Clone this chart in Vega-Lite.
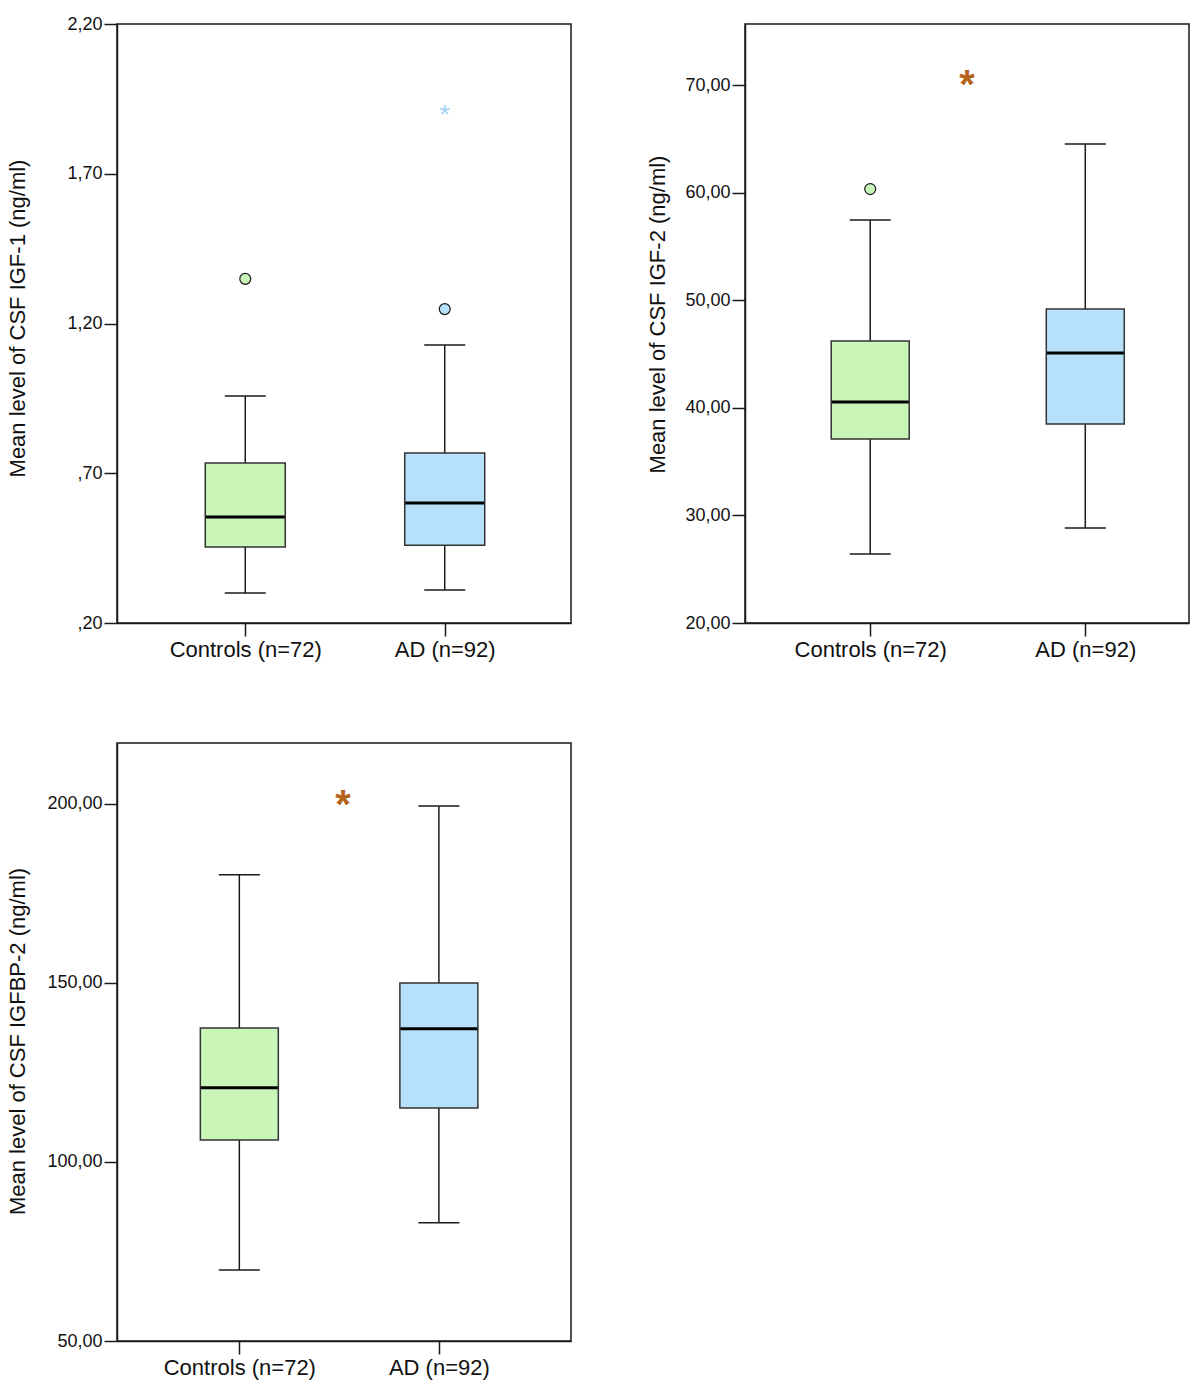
{
  "$schema": "https://vega.github.io/schema/vega-lite/v6.json",
  "padding": {"left": 5, "top": 14, "right": 5, "bottom": 5},
  "background": "white",
  "config": {
    "font": "Liberation Sans",
    "view": {"stroke": "#1a1a1a", "strokeWidth": 1.5},
    "axis": {
      "domainColor": "#1a1a1a", "domainWidth": 1.5,
      "tickColor": "#1a1a1a", "tickWidth": 1.5, "tickSize": 13,
      "labelColor": "#111111", "titleColor": "#111111",
      "labelFont": "Liberation Sans", "titleFont": "Liberation Sans",
      "labelFontSize": 18, "titleFontSize": 22, "titleFontWeight": "normal",
      "labelPadding": 2, "grid": false
    },
    "axisX": {"labelFontSize": 22, "labelPadding": 3},
    "tick": {"color": "#111111", "opacity": 1},
    "bar": {"opacity": 1}
  },
  "datasets": {
    "boxes": [
      {"panel": "IGF-1", "group": "Controls", "pos": 1, "lo": 0.30, "q1": 0.454, "med": 0.554, "q3": 0.734, "hi": 0.958},
      {"panel": "IGF-1", "group": "AD", "pos": 2, "lo": 0.31, "q1": 0.46, "med": 0.601, "q3": 0.768, "hi": 1.128},
      {"panel": "IGF-2", "group": "Controls", "pos": 1, "lo": 26.41, "q1": 37.1, "med": 40.54, "q3": 46.2, "hi": 57.45},
      {"panel": "IGF-2", "group": "AD", "pos": 2, "lo": 28.83, "q1": 38.49, "med": 45.09, "q3": 49.18, "hi": 64.52},
      {"panel": "IGFBP-2", "group": "Controls", "pos": 1, "lo": 69.8, "q1": 106.1, "med": 120.7, "q3": 137.4, "hi": 180.2},
      {"panel": "IGFBP-2", "group": "AD", "pos": 2, "lo": 83.0, "q1": 115.1, "med": 137.2, "q3": 150.0, "hi": 199.4}
    ],
    "outliers": [
      {"panel": "IGF-1", "group": "Controls", "pos": 1, "value": 1.349, "marker": "circle"},
      {"panel": "IGF-1", "group": "AD", "pos": 2, "value": 1.248, "marker": "circle"},
      {"panel": "IGF-1", "group": "AD", "pos": 2, "value": 1.916, "marker": "extreme"},
      {"panel": "IGF-2", "group": "Controls", "pos": 1, "value": 60.33, "marker": "circle"},
      {"panel": "IGF-2", "group": "significance", "pos": 1.45, "value": 70.84, "marker": "significance"},
      {"panel": "IGFBP-2", "group": "significance", "pos": 1.52, "value": 202.2, "marker": "significance"}
    ]
  },
  "bounds": "flush",
  "columns": 2,
  "spacing": {"row": 120, "column": 174},
  "concat": [
    {
      "width": 454, "height": 599,
      "encoding": {
        "x": {"field": "pos", "type": "quantitative", "scale": {"domain": [0.382, 2.608], "nice": false, "zero": false},
              "axis": {"title": null, "values": [1, 2], "labelExpr": "datum.value == 1 ? 'Controls (n=72)' : 'AD (n=92)'"}}
      },
      "layer": [
        {"data": {"name": "boxes"}, "transform": [{"filter": "datum.panel == 'IGF-1'"}],
         "mark": {"type": "rule", "color": "#1a1a1a", "strokeWidth": 1.5},
         "encoding": {"y": {"field": "lo", "type": "quantitative", "scale": {"domain": [0.2, 2.2], "nice": false, "zero": false},
                           "axis": {"title": "Mean level of CSF IGF-1 (ng/ml)", "values": [0.2, 0.7, 1.2, 1.7, 2.2],
                                    "labelExpr": "datum.value < 1 ? ',' + substring(format(datum.value, '.2f'), 2) : replace(format(datum.value, '.2f'), '.', ',')",
                                    "titleX": -88, "titleY": 294, "titleAngle": -90, "titleBaseline": "bottom", "titleAlign": "center"}},
                      "y2": {"field": "hi"}}},
        {"data": {"name": "boxes"}, "transform": [{"filter": "datum.panel == 'IGF-1'"}],
         "mark": {"type": "bar", "orient": "vertical", "width": 80, "stroke": "#333333", "strokeWidth": 1.5},
         "encoding": {"y": {"field": "q1", "type": "quantitative"}, "y2": {"field": "q3"},
                      "fill": {"field": "group", "type": "nominal", "scale": {"domain": ["Controls", "AD"], "range": ["#c9f5b8", "#b7e0fb"]}, "legend": null}}},
        {"data": {"name": "boxes"}, "transform": [{"filter": "datum.panel == 'IGF-1'"}],
         "mark": {"type": "tick", "orient": "horizontal", "size": 79, "thickness": 3, "color": "#000000"},
         "encoding": {"y": {"field": "med", "type": "quantitative"}}},
        {"data": {"name": "boxes"}, "transform": [{"filter": "datum.panel == 'IGF-1'"}],
         "mark": {"type": "tick", "orient": "horizontal", "size": 41, "thickness": 1.5, "color": "#1a1a1a"},
         "encoding": {"y": {"field": "lo", "type": "quantitative"}}},
        {"data": {"name": "boxes"}, "transform": [{"filter": "datum.panel == 'IGF-1'"}],
         "mark": {"type": "tick", "orient": "horizontal", "size": 41, "thickness": 1.5, "color": "#1a1a1a"},
         "encoding": {"y": {"field": "hi", "type": "quantitative"}}},
        {"data": {"name": "outliers"}, "transform": [{"filter": "datum.panel == 'IGF-1' && datum.marker == 'circle'"}],
         "mark": {"type": "point", "shape": "circle", "filled": true, "size": 120, "stroke": "#1a1a1a", "strokeWidth": 1.2, "opacity": 1},
         "encoding": {"y": {"field": "value", "type": "quantitative"},
                      "fill": {"field": "group", "type": "nominal", "legend": null}}},
        {"data": {"name": "outliers"}, "transform": [{"filter": "datum.panel == 'IGF-1' && datum.marker == 'extreme'"}],
         "mark": {"type": "text", "text": "*", "fontSize": 28, "color": "#a6d4f2", "baseline": "middle", "dy": 7},
         "encoding": {"y": {"field": "value", "type": "quantitative"}}}
      ]
    },
    {
      "width": 444, "height": 599,
      "encoding": {
        "x": {"field": "pos", "type": "quantitative", "scale": {"domain": [0.441, 2.459], "nice": false, "zero": false},
              "axis": {"title": null, "values": [1, 2], "labelExpr": "datum.value == 1 ? 'Controls (n=72)' : 'AD (n=92)'"}}
      },
      "layer": [
        {"data": {"name": "boxes"}, "transform": [{"filter": "datum.panel == 'IGF-2'"}],
         "mark": {"type": "rule", "color": "#1a1a1a", "strokeWidth": 1.5},
         "encoding": {"y": {"field": "lo", "type": "quantitative", "scale": {"domain": [20, 75.67], "nice": false, "zero": false},
                           "axis": {"title": "Mean level of CSF IGF-2 (ng/ml)", "values": [20, 30, 40, 50, 60, 70],
                                    "labelExpr": "replace(format(datum.value, '.2f'), '.', ',')",
                                    "titleX": -76, "titleY": 290, "titleAngle": -90, "titleBaseline": "bottom", "titleAlign": "center"}},
                      "y2": {"field": "hi"}}},
        {"data": {"name": "boxes"}, "transform": [{"filter": "datum.panel == 'IGF-2'"}],
         "mark": {"type": "bar", "orient": "vertical", "width": 78, "stroke": "#333333", "strokeWidth": 1.5},
         "encoding": {"y": {"field": "q1", "type": "quantitative"}, "y2": {"field": "q3"},
                      "fill": {"field": "group", "type": "nominal", "scale": {"domain": ["Controls", "AD"], "range": ["#c9f5b8", "#b7e0fb"]}, "legend": null}}},
        {"data": {"name": "boxes"}, "transform": [{"filter": "datum.panel == 'IGF-2'"}],
         "mark": {"type": "tick", "orient": "horizontal", "size": 77, "thickness": 3, "color": "#000000"},
         "encoding": {"y": {"field": "med", "type": "quantitative"}}},
        {"data": {"name": "boxes"}, "transform": [{"filter": "datum.panel == 'IGF-2'"}],
         "mark": {"type": "tick", "orient": "horizontal", "size": 41, "thickness": 1.5, "color": "#1a1a1a"},
         "encoding": {"y": {"field": "lo", "type": "quantitative"}}},
        {"data": {"name": "boxes"}, "transform": [{"filter": "datum.panel == 'IGF-2'"}],
         "mark": {"type": "tick", "orient": "horizontal", "size": 41, "thickness": 1.5, "color": "#1a1a1a"},
         "encoding": {"y": {"field": "hi", "type": "quantitative"}}},
        {"data": {"name": "outliers"}, "transform": [{"filter": "datum.panel == 'IGF-2' && datum.marker == 'circle'"}],
         "mark": {"type": "point", "shape": "circle", "filled": true, "size": 120, "stroke": "#1a1a1a", "strokeWidth": 1.2, "opacity": 1},
         "encoding": {"y": {"field": "value", "type": "quantitative"},
                      "fill": {"field": "group", "type": "nominal", "legend": null}}},
        {"data": {"name": "outliers"}, "transform": [{"filter": "datum.panel == 'IGF-2' && datum.marker == 'significance'"}],
         "mark": {"type": "text", "text": "*", "fontSize": 40, "fontWeight": "bold", "color": "#b5631b", "baseline": "middle", "dy": 10},
         "encoding": {"y": {"field": "value", "type": "quantitative"}}}
      ]
    },
    {
      "width": 454, "height": 598,
      "encoding": {
        "x": {"field": "pos", "type": "quantitative", "scale": {"domain": [0.412, 2.637], "nice": false, "zero": false},
              "axis": {"title": null, "values": [1, 2], "labelExpr": "datum.value == 1 ? 'Controls (n=72)' : 'AD (n=92)'"}}
      },
      "layer": [
        {"data": {"name": "boxes"}, "transform": [{"filter": "datum.panel == 'IGFBP-2'"}],
         "mark": {"type": "rule", "color": "#1a1a1a", "strokeWidth": 1.5},
         "encoding": {"y": {"field": "lo", "type": "quantitative", "scale": {"domain": [50, 217], "nice": false, "zero": false},
                           "axis": {"title": "Mean level of CSF IGFBP-2 (ng/ml)", "values": [50, 100, 150, 200],
                                    "labelExpr": "replace(format(datum.value, '.2f'), '.', ',')",
                                    "titleX": -88, "titleY": 298, "titleAngle": -90, "titleBaseline": "bottom", "titleAlign": "center"}},
                      "y2": {"field": "hi"}}},
        {"data": {"name": "boxes"}, "transform": [{"filter": "datum.panel == 'IGFBP-2'"}],
         "mark": {"type": "bar", "orient": "vertical", "width": 78, "stroke": "#333333", "strokeWidth": 1.5},
         "encoding": {"y": {"field": "q1", "type": "quantitative"}, "y2": {"field": "q3"},
                      "fill": {"field": "group", "type": "nominal", "scale": {"domain": ["Controls", "AD"], "range": ["#c9f5b8", "#b7e0fb"]}, "legend": null}}},
        {"data": {"name": "boxes"}, "transform": [{"filter": "datum.panel == 'IGFBP-2'"}],
         "mark": {"type": "tick", "orient": "horizontal", "size": 77, "thickness": 3, "color": "#000000"},
         "encoding": {"y": {"field": "med", "type": "quantitative"}}},
        {"data": {"name": "boxes"}, "transform": [{"filter": "datum.panel == 'IGFBP-2'"}],
         "mark": {"type": "tick", "orient": "horizontal", "size": 41, "thickness": 1.5, "color": "#1a1a1a"},
         "encoding": {"y": {"field": "lo", "type": "quantitative"}}},
        {"data": {"name": "boxes"}, "transform": [{"filter": "datum.panel == 'IGFBP-2'"}],
         "mark": {"type": "tick", "orient": "horizontal", "size": 41, "thickness": 1.5, "color": "#1a1a1a"},
         "encoding": {"y": {"field": "hi", "type": "quantitative"}}},
        {"data": {"name": "outliers"}, "transform": [{"filter": "datum.panel == 'IGFBP-2' && datum.marker == 'significance'"}],
         "mark": {"type": "text", "text": "*", "fontSize": 40, "fontWeight": "bold", "color": "#b5631b", "baseline": "middle", "dy": 10},
         "encoding": {"y": {"field": "value", "type": "quantitative"}}}
      ]
    }
  ]
}
